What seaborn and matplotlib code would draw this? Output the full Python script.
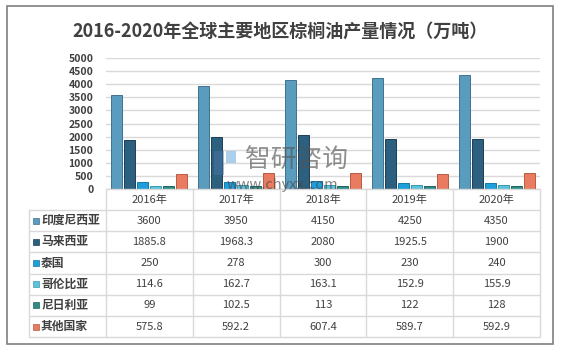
import matplotlib
matplotlib.use("Agg")
import matplotlib.pyplot as plt
from matplotlib.lines import Line2D
from matplotlib.patches import Rectangle
import seaborn as sns
import pandas as pd

years = ["2016年", "2017年", "2018年", "2019年", "2020年"]
regions = ["印度尼西亚", "马来西亚", "泰国", "哥伦比亚", "尼日利亚", "其他国家"]
indonesia = [3600, 3950, 4150, 4250, 4350]
malaysia = [1885.8, 1968.3, 2080, 1925.5, 1900]
thailand = [250, 278, 300, 230, 240]
colombia = [114.6, 162.7, 163.1, 152.9, 155.9]
nigeria = [99, 102.5, 113, 122, 128]
others = [575.8, 592.2, 607.4, 589.7, 592.9]
table_text = [
    ["3600", "3950", "4150", "4250", "4350"],
    ["1885.8", "1968.3", "2080", "1925.5", "1900"],
    ["250", "278", "300", "230", "240"],
    ["114.6", "162.7", "163.1", "152.9", "155.9"],
    ["99", "102.5", "113", "122", "128"],
    ["575.8", "592.2", "607.4", "589.7", "592.9"],
]
yticks = [0, 500, 1000, 1500, 2000, 2500, 3000, 3500, 4000, 4500, 5000]
title = "2016-2020年全球主要地区棕榈油产量情况（万吨）"

colors = ["#5a9cbd", "#2d5f7e", "#1e9fdb", "#5cc3de", "#2e8c86", "#e97b60"]
edges = ["#3f7390", "#1c3f56", "#137aa8", "#3c98b0", "#1f6561", "#b85a43"]

series = [indonesia, malaysia, thailand, colombia, nigeria, others]
rows = []
for r, vals in zip(regions, series):
    for y, v in zip(years, vals):
        rows.append({"year": y, "region": r, "value": v})
df = pd.DataFrame(rows)

sns.set_theme(style="white")
plt.rcParams["font.family"] = ["Noto Sans CJK SC", "DejaVu Sans"]

W, H = 561, 347
fig = plt.figure(figsize=(W / 100, H / 100), dpi=100)
fig.patch.set_facecolor("white")

def fx(px):
    return px / W

def fy(py):
    return 1 - py / H

ax_l, ax_r, ax_t, ax_b = 106, 540, 58, 189
ax = fig.add_axes([fx(ax_l), fy(ax_b), fx(ax_r - ax_l), (ax_b - ax_t) / H])
sns.barplot(data=df, x="year", y="value", hue="region", palette=colors,
            width=0.9, gap=0.15, ax=ax, legend=False, saturation=1)
for i, cont in enumerate(ax.containers):
    for p in cont:
        p.set_edgecolor(edges[i])
        p.set_linewidth(0.7)
ax.set_xlim(-0.5, 4.5)
ax.set_ylim(0, 5000)
ax.set_yticks(yticks)
ax.set_yticklabels([str(t) for t in yticks], fontsize=7.5, color="#404040", fontweight="bold")
ax.tick_params(axis="y", length=0, pad=9)
ax.set_xticks([])
ax.set_xlabel("")
ax.set_ylabel("")
ax.grid(axis="y", color="#d9d9d9", linewidth=1)
ax.set_axisbelow(True)
for s in ax.spines.values():
    s.set_visible(False)

# title
fig.text(fx(280), fy(31), title, ha="center", va="center", fontsize=13,
         fontweight="bold", color="#404040")

# table
grid_c = "#d9d9d9"
cat_w = (ax_r - ax_l) / 5
row_top = 210
row_h = 21.2
label_l = 29
n_rows = len(regions)
tbl_bottom = row_top + n_rows * row_h

def hline(x0, x1, y):
    fig.add_artist(Line2D([fx(x0), fx(x1)], [fy(y), fy(y)], color=grid_c, lw=1))

def vline(x, y0, y1):
    fig.add_artist(Line2D([fx(x), fx(x)], [fy(y0), fy(y1)], color=grid_c, lw=1))

hline(ax_l, ax_r, ax_b)
for i in range(n_rows + 1):
    hline(label_l, ax_r, row_top + i * row_h)
for j in range(6):
    vline(ax_l + j * cat_w, ax_b, tbl_bottom)
vline(label_l, row_top, tbl_bottom)

for j, yl in enumerate(years):
    fig.text(fx(ax_l + (j + 0.5) * cat_w), fy((ax_b + row_top) / 2), yl,
             ha="center", va="center", fontsize=8, color="#404040", fontweight="medium")
for i, reg in enumerate(regions):
    yc = row_top + (i + 0.5) * row_h
    fig.add_artist(Rectangle((fx(33), fy(yc + 3)), fx(6), 6 / H,
                             facecolor=colors[i], edgecolor=edges[i], lw=0.5))
    fig.text(fx(41), fy(yc), reg, ha="left", va="center", fontsize=8.5,
             color="#404040", fontweight="bold")
    for j in range(5):
        fig.text(fx(ax_l + (j + 0.5) * cat_w), fy(yc), table_text[i][j],
                 ha="center", va="center", fontsize=8, color="#404040",
                 fontweight="medium")

# watermark
fig.add_artist(Rectangle((fx(214), fy(175)), fx(10), 24 / H, facecolor="#4a78a8",
                         edgecolor="none", alpha=0.5))
fig.add_artist(Rectangle((fx(226), fy(163)), fx(10), 12 / H, facecolor="#5aa0d8",
                         edgecolor="none", alpha=0.5))
fig.text(fx(297), fy(160), "智研咨询", ha="center", va="center", fontsize=18.5,
         color="#555555", alpha=0.65)
fig.text(fx(282), fy(184.5), "www.chyxx.com", ha="center", va="center", fontsize=10.5,
         color="#454545", alpha=0.65)

# outer border
fig.add_artist(Rectangle((fx(7), fy(344)), fx(546), (344 - 6) / H, fill=False,
                         edgecolor="#7f7f7f", lw=1.2))

fig.savefig("out.png", dpi=100, facecolor="white")
